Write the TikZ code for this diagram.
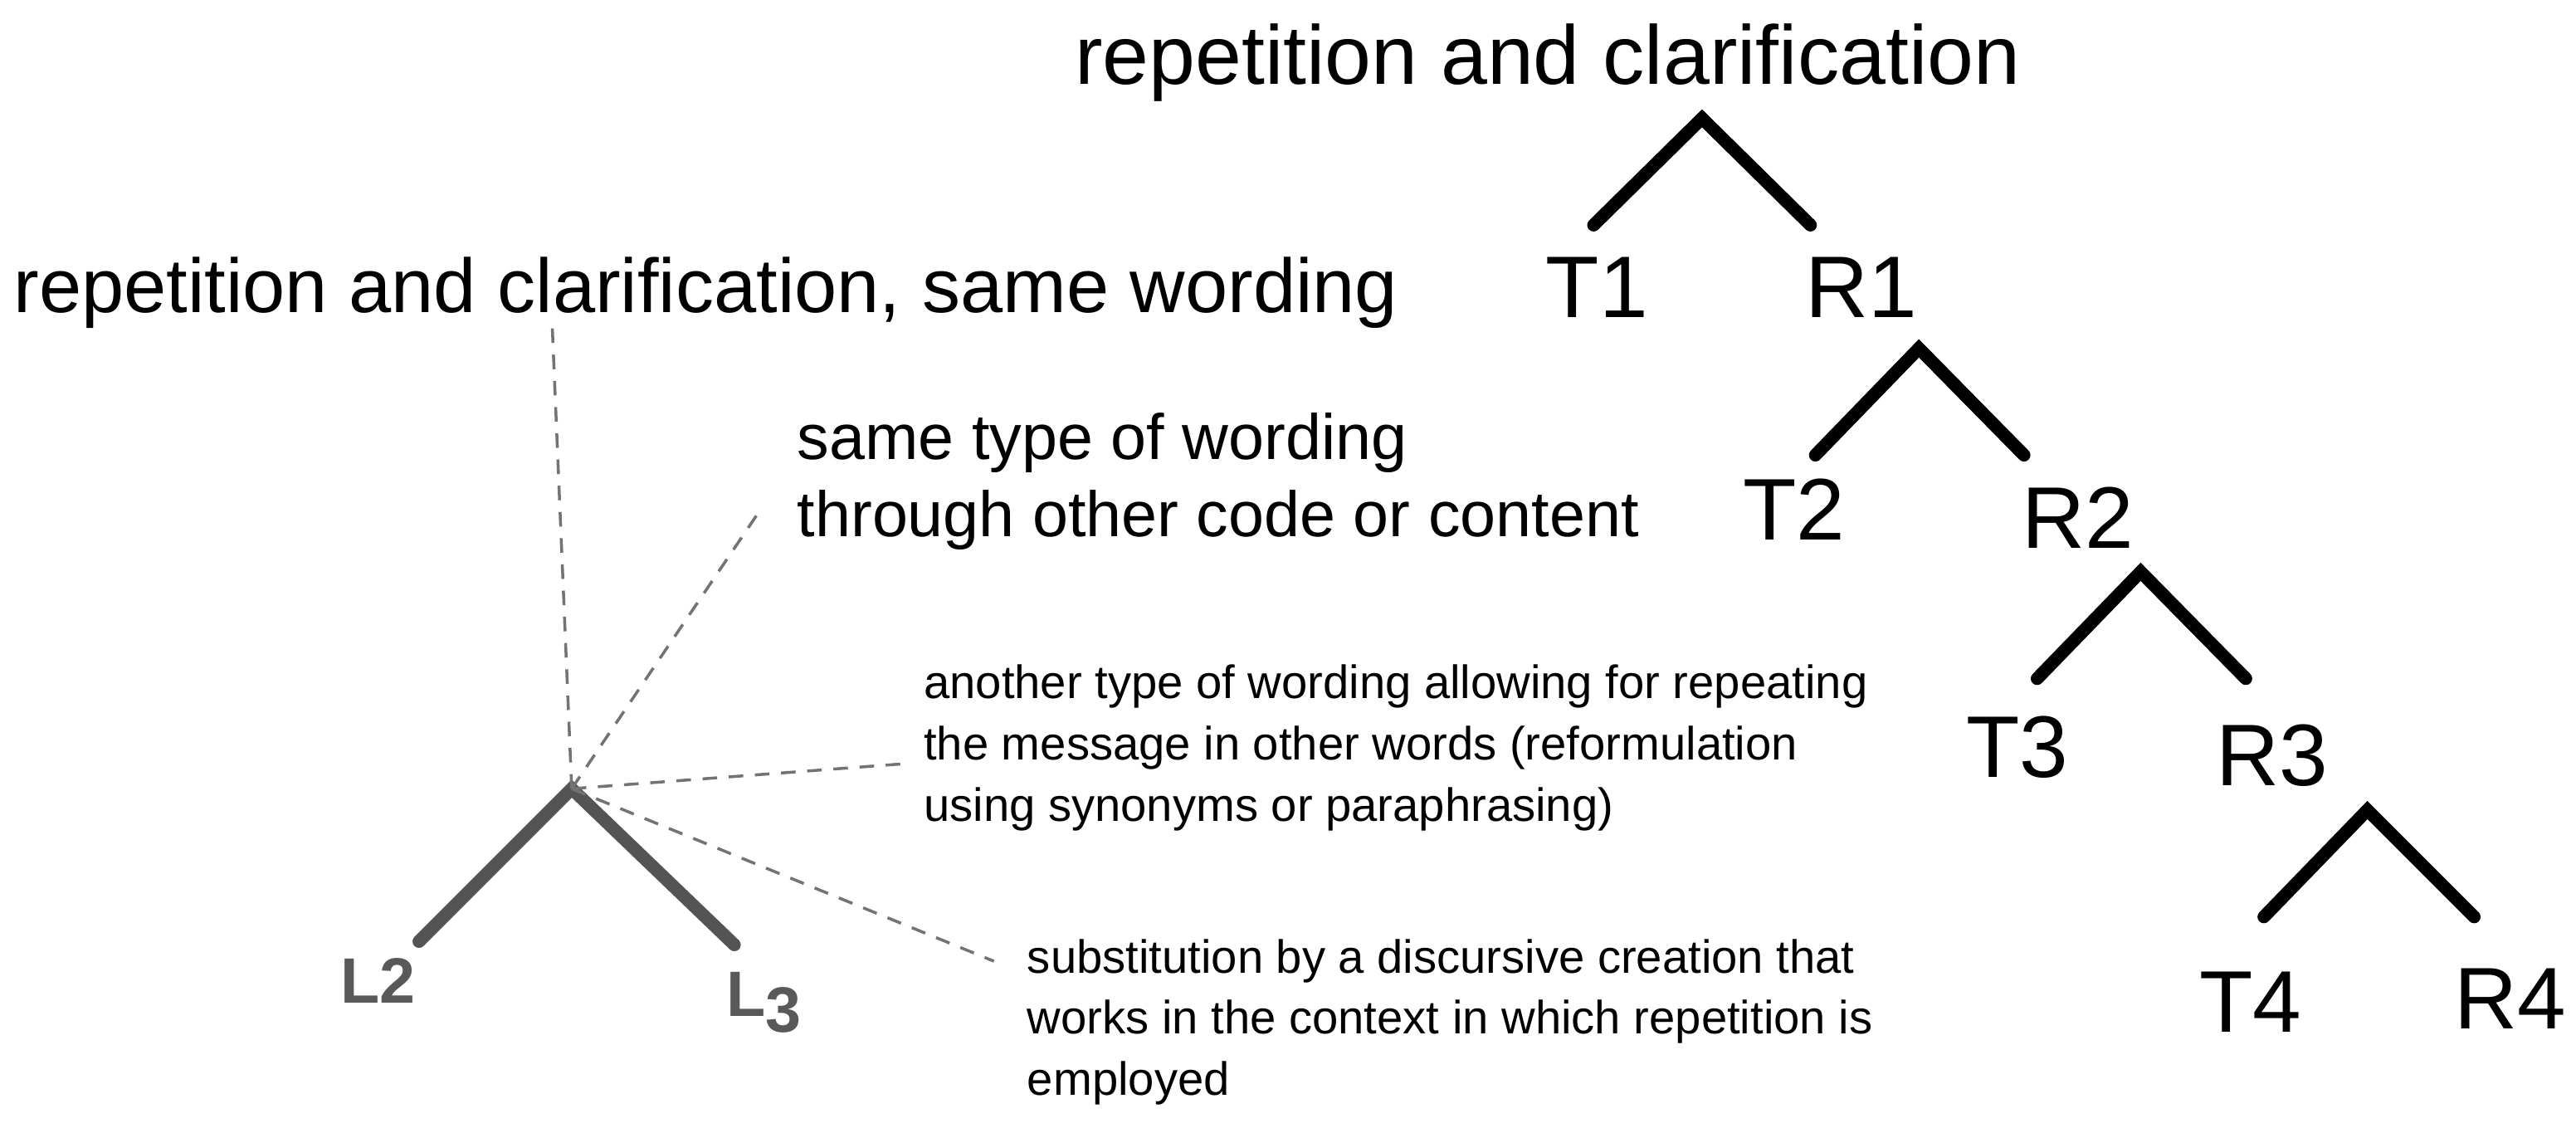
\documentclass[tikz,border=0pt]{standalone}
\usepackage{fontspec}
\setmainfont{Liberation Sans}
\begin{document}
\begin{tikzpicture}[x=0.0198cm,y=-0.0198cm,
  big/.style={font=\fontsize{28.6}{32}\selectfont},
  lbig/.style={font=\fontsize{26.2}{30}\selectfont,anchor=west,inner sep=0},
  lab/.style={font=\fontsize{30}{34}\selectfont},
  mid/.style={font=\fontsize{22}{26.2}\selectfont,align=left,anchor=west,inner sep=0},
  small/.style={font=\fontsize{16}{21}\selectfont,align=left,anchor=west,inner sep=0},
  br/.style={line width=4.4pt,line cap=round,line join=miter},
  gbr/.style={br,draw=black!67},
  ll/.style={font=\fontsize{22}{26}\selectfont\bfseries,text=black!65},
  dl/.style={draw=black!55,dash pattern=on 5pt off 4pt,line width=1pt}]
\useasboundingbox (0,0) rectangle (1568,686.5);
\node[big] (title) at (942,38) {repetition and clarification};
\node[lbig] (ltitle) at (8,178) {repetition and clarification, same wording};
% right trees
\coordinate (a1) at (1036,72); \coordinate (l1) at (970,137); \coordinate (r1) at (1102,137);
\coordinate (a2) at (1168,212); \coordinate (l2) at (1105,277); \coordinate (r2) at (1232,277);
\coordinate (a3) at (1303,348); \coordinate (l3) at (1240,413); \coordinate (r3) at (1367,413);
\coordinate (a4) at (1441,493); \coordinate (l4) at (1378,558); \coordinate (r4) at (1506,558);
\draw[br] (l1)--(a1)--(r1);
\draw[br] (l2)--(a2)--(r2);
\draw[br] (l3)--(a3)--(r3);
\draw[br] (l4)--(a4)--(r4);
\node[lab] (T1) at (972,175) {T1}; \node[lab] (R1) at (1133,175) {R1};
\node[lab] (T2) at (1092,310) {T2}; \node[lab] (R2) at (1265,315) {R2};
\node[lab] (T3) at (1228,455) {T3}; \node[lab] (R3) at (1383,460) {R3};
\node[lab] (T4) at (1370,610) {T4}; \node[lab] (R4) at (1528,608) {R4};
% left tree
\coordinate (ga) at (348,480); \coordinate (gl) at (255,573); \coordinate (gr) at (447,575);
\draw[gbr] (gl)--(ga)--(gr);
\node[ll] (L2) at (230,597) {L2};
\node[ll] (L3) at (465,610) {L\raisebox{-0.25em}{3}};
% texts
\node[mid] (t1) at (485,293) {same type of wording\\through other code or content};
\node[small] (t2) at (562,455) {another type of wording allowing for repeating\\the message in other words (reformulation\\using synonyms or paraphrasing)};
\node[small] (t3) at (625,622) {substitution by a discursive creation that\\works in the context in which repetition is\\employed};
\coordinate (d1) at (336,195); \coordinate (d2) at (463,310); \coordinate (d3) at (548,465); \coordinate (d4) at (605,585);
\draw[dl] (ga)--(d1); \draw[dl] (ga)--(d2); \draw[dl] (ga)--(d3); \draw[dl] (ga)--(d4);
\end{tikzpicture}
\end{document}
